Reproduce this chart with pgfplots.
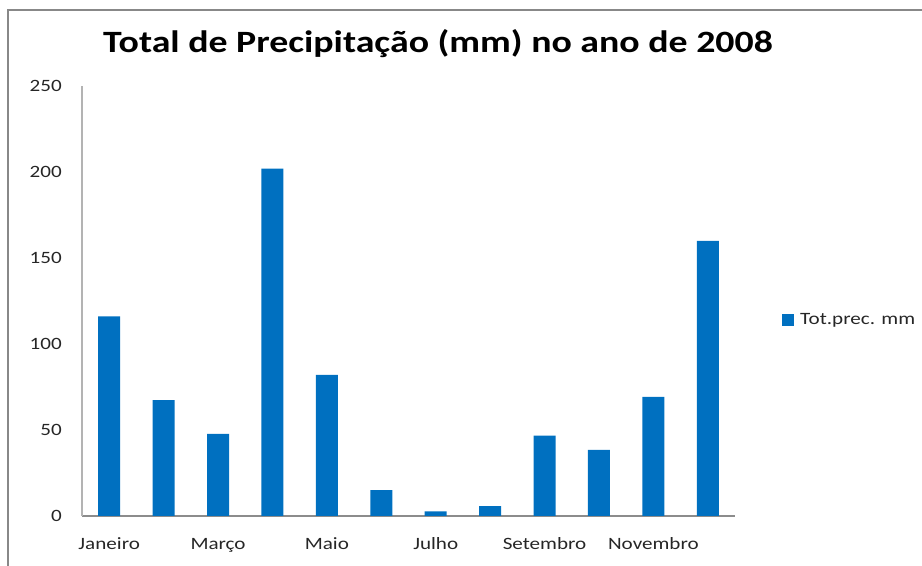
\documentclass[border=0pt]{standalone}
\usepackage{fontspec}
\setmainfont{Carlito}[FakeStretch=1.22]
\usepackage{pgfplots}
\pgfplotsset{compat=1.18}
\definecolor{barblue}{HTML}{0070C0}
\definecolor{axgray}{HTML}{B3B3B3}
\definecolor{xaxgray}{HTML}{8C8C8C}
\definecolor{framegray}{HTML}{888888}
\begin{document}
\begin{tikzpicture}[x=1bp,y=1bp]
\path[use as bounding box] (0,0) rectangle (922,566);
\draw[framegray,line width=1.4bp] (8,-5) -- (8,556) -- (930,556);
\node[anchor=base,font=\fontsize{31bp}{36bp}\selectfont\bfseries] at (438,513) {Total de Precipitação (mm) no ano de 2008};
\begin{axis}[
  at={(82bp,50bp)}, anchor=south west,
  scale only axis, width=653bp, height=430bp,
  xmin=0.5, xmax=12.5, ymin=0, ymax=250,
  ybar, bar width=22bp, bar shift=0pt,
  xtick={1,3,5,7,9,11},
  xticklabels={Janeiro,Março,Maio,Julho,Setembro,Novembro},
  ytick={0,50,...,250},
  major tick length=0pt,
  axis x line*=bottom, axis y line*=left,
  x axis line style={xaxgray,line width=1.2bp,-},
  y axis line style={axgray,line width=1.2bp,-},
  /pgf/number format/assume math mode=true,
  tick label style={font=\fontsize{17.3bp}{20bp}\selectfont, text=black!85},
  yticklabel style={anchor=east, inner sep=0pt, xshift=-20bp},
  xticklabel style={anchor=base, inner sep=0pt, yshift=-34bp},
  legend style={at={(1.072,0.456)}, anchor=west, draw=none, fill=none,
    inner sep=0pt, font=\fontsize{17.3bp}{20bp}\selectfont,
    nodes={inner sep=0pt, anchor=west, text=black!85}},
  legend image code/.code={\path[fill=barblue] (0bp,-6bp) rectangle (12bp,6bp); \path (18bp,0bp);},
  legend cell align=left,
]
\addplot[fill=barblue, draw=none] coordinates {
 (1,116) (2,67.4) (3,47.7) (4,202) (5,82) (6,15)
 (7,2.7) (8,5.8) (9,46.7) (10,38.5) (11,69.3) (12,160)};
\addlegendentry{Tot.prec. mm}
\end{axis}
\end{tikzpicture}
\end{document}
